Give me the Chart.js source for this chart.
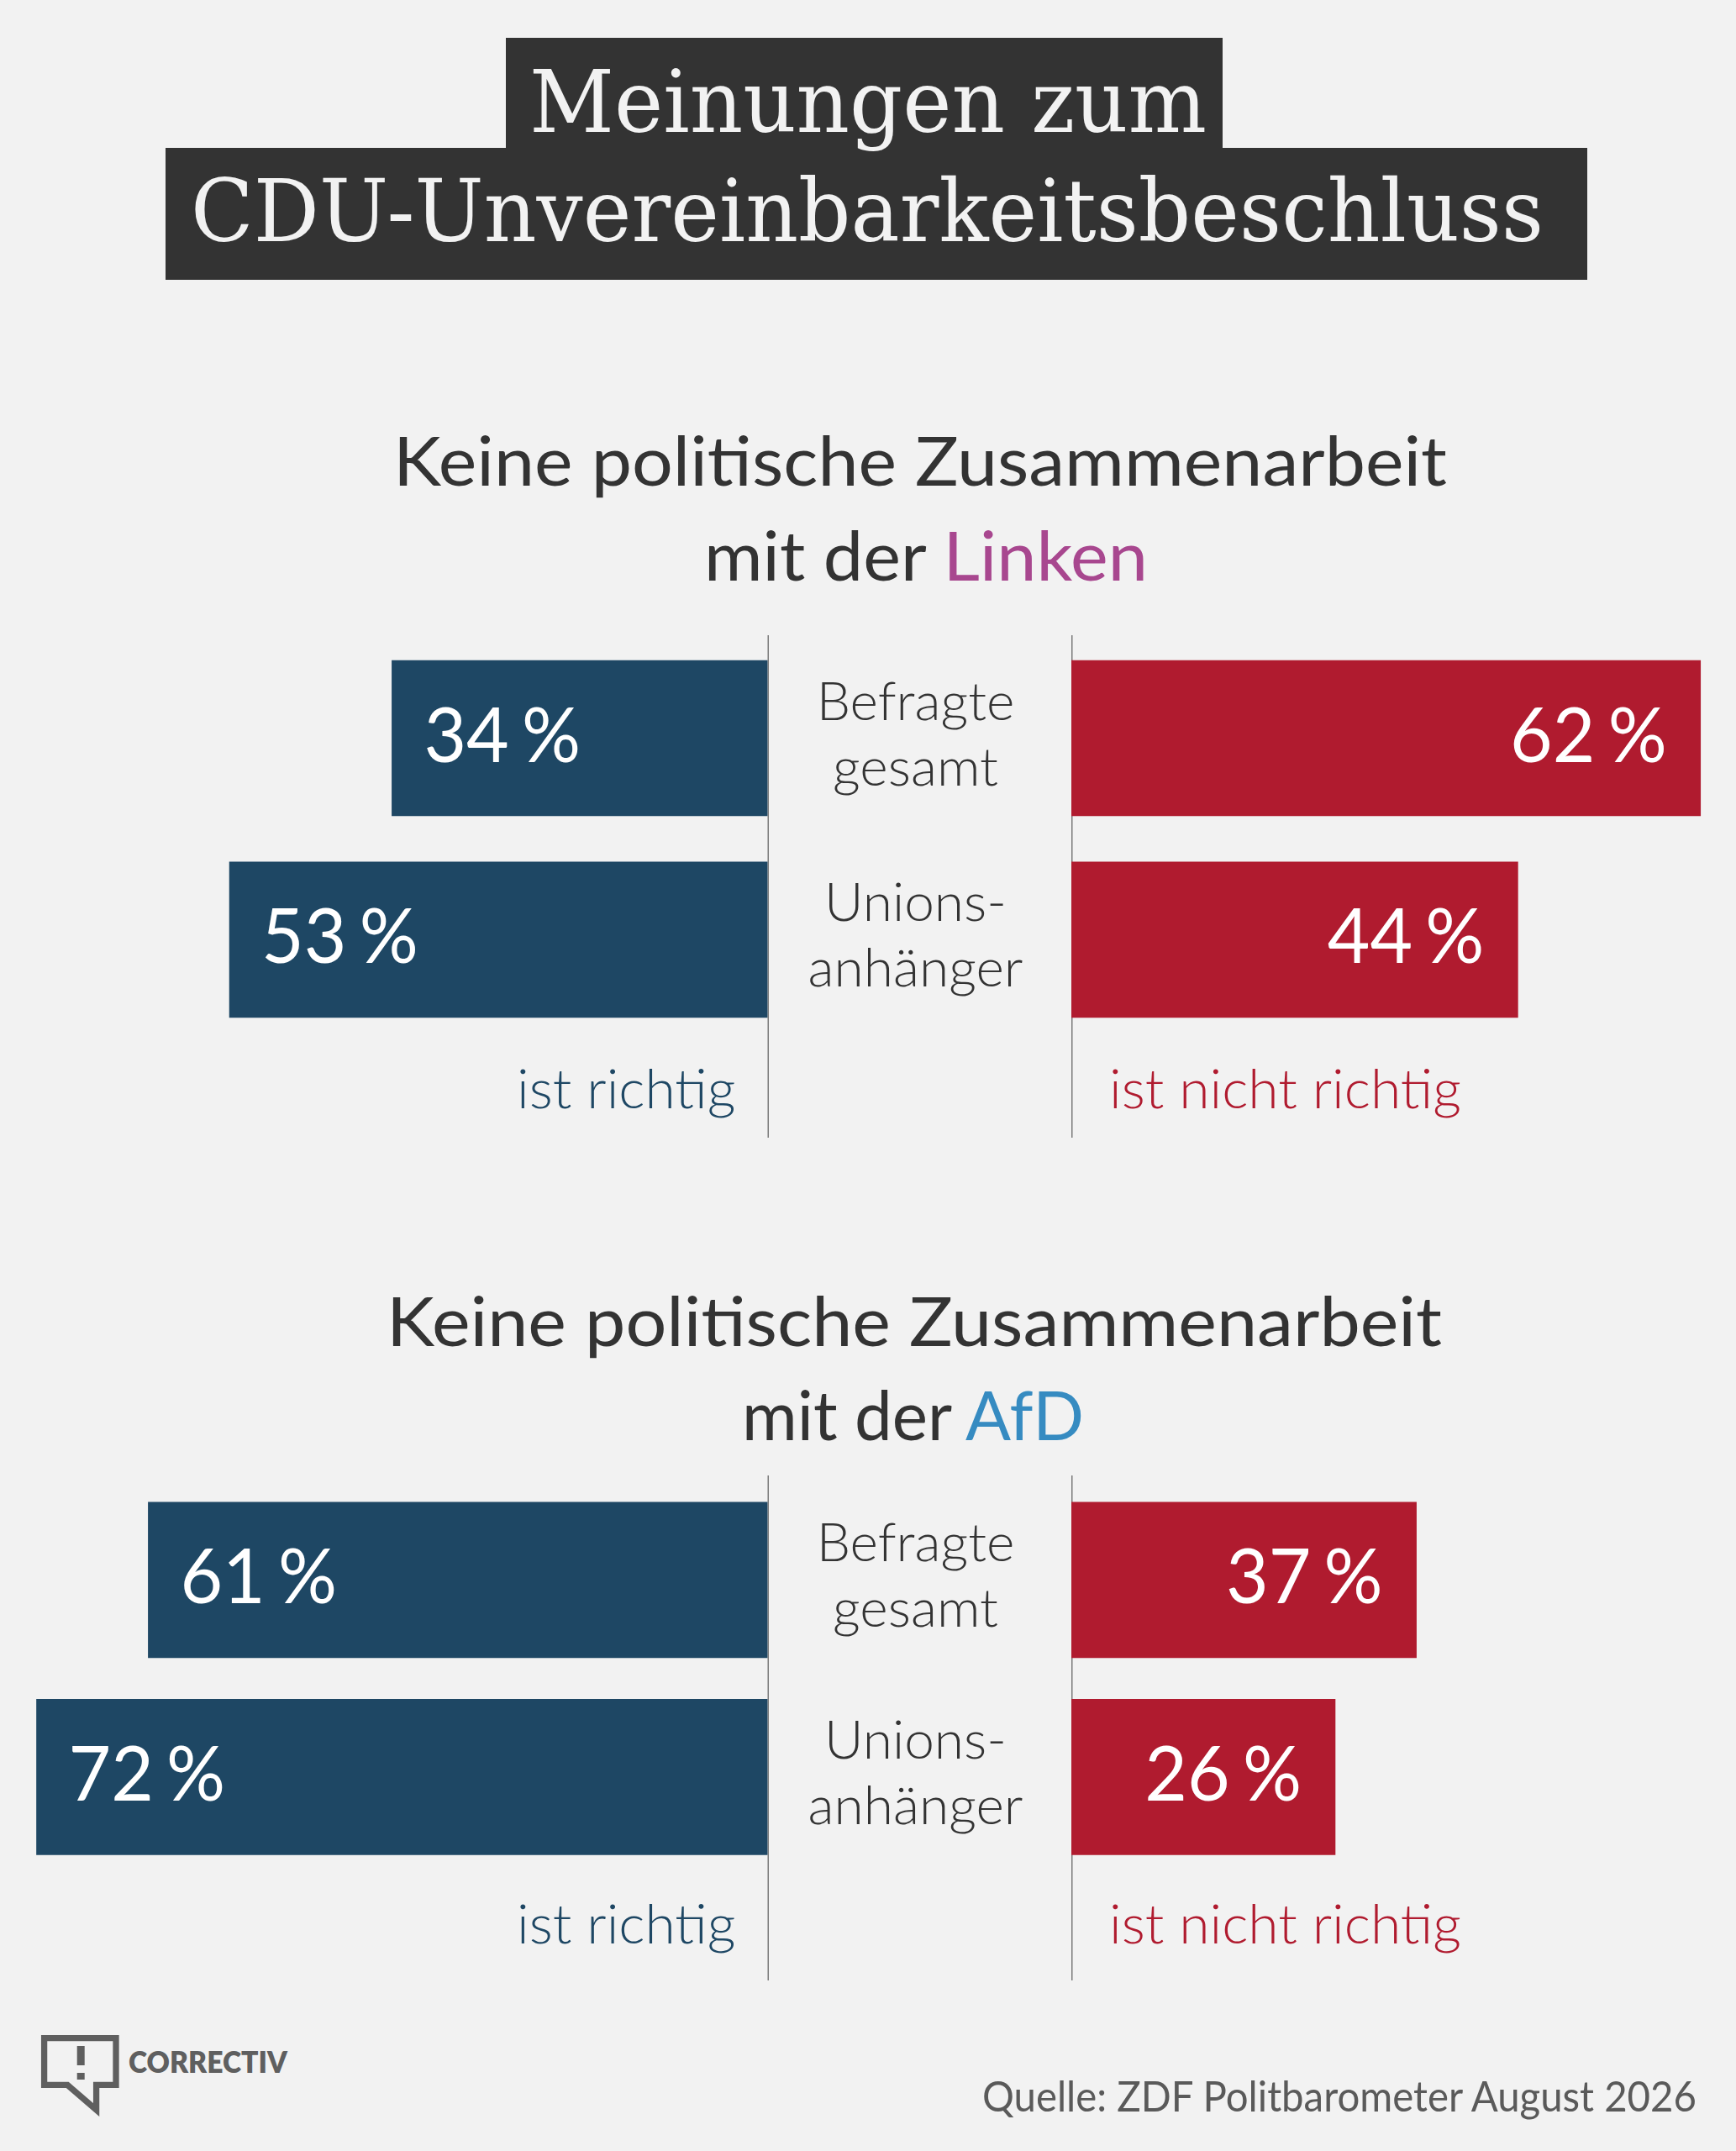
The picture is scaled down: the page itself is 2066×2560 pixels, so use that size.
<!DOCTYPE html>
<html lang="de">
<head>
<meta charset="utf-8">
<title>Meinungen zum CDU-Unvereinbarkeitsbeschluss</title>
<script src="https://cdn.jsdelivr.net/npm/chart.js@4/dist/chart.umd.min.js"></script>
<style>
  html, body { margin: 0; padding: 0; }
  body { width: 2066px; height: 2560px; background: #f2f2f2; position: relative; overflow: hidden; font-family: Lato, sans-serif; color: #333; }
  .box { position: absolute; background: #333; }
  .txt { position: absolute; left: 0; top: 0; white-space: nowrap; transform-origin: 0 0; line-height: 1; }
  .title { font-family: "DejaVu Serif", serif; font-size: 103px; color: #f2f2f2; }
  .sub { font-size: 82px; font-weight: 400; color: #333; }
  .src { font-size: 50px; font-weight: 400; color: #5a5a5a; }
  .logo { font-size: 35px; font-weight: 800; color: #5f5f5f; }
  .chartbox { position: absolute; }
</style>
</head>
<body>

<div class="box" style="left:602px;top:45px;width:853px;height:131px"></div>
<div class="box" style="left:197px;top:176px;width:1692px;height:157px"></div>
<div class="txt title" id="t1">Meinungen zum</div>
<div class="txt title" id="t2">CDU-Unvereinbarkeitsbeschluss</div>

<div class="txt sub" id="s1a">Keine politische Zusammenarbeit</div>
<div class="txt sub" id="s1b">mit der <span style="color:#a8478f">Linken</span></div>
<div class="txt sub" id="s2a">Keine politische Zusammenarbeit</div>
<div class="txt sub" id="s2b">mit der <span style="color:#368bc1">AfD</span></div>

<div class="chartbox" style="left:0;top:756px;width:1275px;height:598px"><canvas id="linkeRichtig"></canvas></div>
<div class="chartbox" style="left:1275px;top:756px;width:791px;height:598px"><canvas id="linkeNicht"></canvas></div>
<div class="chartbox" style="left:0;top:1756px;width:1275px;height:601px"><canvas id="afdRichtig"></canvas></div>
<div class="chartbox" style="left:1275px;top:1756px;width:791px;height:601px"><canvas id="afdNicht"></canvas></div>

<svg style="position:absolute;left:0;top:2400px" width="160" height="130" viewBox="0 2400 160 130">
  <path d="M52.6 2425.6 H138 V2481.4 H114.6 V2511 L80.3 2481.4 H52.6 Z" fill="none" stroke="#5f5f5f" stroke-width="7.3"/>
  <rect x="91.7" y="2435" width="9" height="23" fill="#5f5f5f"/>
  <rect x="91.7" y="2467" width="9" height="8" fill="#5f5f5f"/>
</svg>
<div class="txt logo" id="logo">CORRECTIV</div>
<div class="txt src" id="src">Quelle: ZDF Politbarometer August 2026</div>

<script>
// Kategorien (Zeilen der Beschriftung in der Mitte)
const categories = [['Befragte', 'gesamt'], ['Unions-', 'anhänger']];

// Balkenlängen in Prozent, wie gezeichnet
const linkeRichtig = [37, 53];
const linkeNichtRichtig = [62, 44];
const afdRichtig = [61, 72];
const afdNichtRichtig = [34, 26];

// Beschriftungen, wie gedruckt
const linkeRichtigLabels = ['34\u202F%', '53\u202F%'];
const linkeNichtRichtigLabels = ['62\u202F%', '44\u202F%'];
const afdRichtigLabels = ['61\u202F%', '72\u202F%'];
const afdNichtRichtigLabels = ['37\u202F%', '26\u202F%'];

const blue = '#1e4764';
const red = '#b01b2f';

// Zahl und Prozentzeichen mit schmalem Abstand, leicht schmaler gesetzt
function drawValue(ctx, text, x, y, alignLeft) {
    const parts = text.split('\u202F');
    const gap = 16;
    const sx = 0.95;
    const w = (ctx.measureText(parts[0]).width + gap + ctx.measureText(parts[1]).width) * sx;
    const start = alignLeft ? x : x - w;
    ctx.save();
    ctx.translate(start, y);
    ctx.scale(sx, 1);
    ctx.textAlign = 'left';
    ctx.fillText(parts[0], 0, 0);
    ctx.fillText(parts[1], ctx.measureText(parts[0]).width + gap, 0);
    ctx.restore();
}

const divergePlugin = {
    id: 'diverge',
    beforeDatasetsDraw(chart, args, opts) {
        const { ctx, chartArea } = chart;
        const x = opts.side === 'left' ? chartArea.right + 0.75 : chartArea.left + 0.75;
        ctx.save();
        ctx.strokeStyle = '#7a7a7a';
        ctx.lineWidth = 1.5;
        ctx.beginPath();
        ctx.moveTo(x, 0);
        ctx.lineTo(x, chart.height);
        ctx.stroke();
        ctx.restore();
    },
    afterDatasetsDraw(chart, args, opts) {
        const { ctx, chartArea } = chart;
        const left = opts.side === 'left';
        const meta = chart.getDatasetMeta(0);
        ctx.save();
        // Prozentwerte in den Balken
        ctx.fillStyle = '#ffffff';
        ctx.font = '400 92px Lato';
        ctx.textBaseline = 'alphabetic';
        meta.data.forEach((bar, i) => {
            drawValue(ctx, opts.labels[i], left ? bar.x + 38 : bar.x - 40, bar.y + 28, left);
        });
        // "ist richtig" / "ist nicht richtig"
        ctx.font = '300 66px Lato';
        ctx.fillStyle = opts.color;
        ctx.textAlign = left ? 'right' : 'left';
        ctx.fillText(opts.caption, left ? chartArea.right - 38 : chartArea.left + 45, chartArea.bottom + 81);
        // Kategorien in der Mitte
        if (left) {
            const yScale = chart.scales.y;
            ctx.font = '300 64px Lato';
            ctx.fillStyle = '#333333';
            ctx.textAlign = 'center';
            categories.forEach((lines, i) => {
                const cy = yScale.getPixelForValue(i);
                ctx.fillText(lines[0], chartArea.right + 176, cy - 22);
                ctx.fillText(lines[1], chartArea.right + 176, cy + 56);
            });
        }
        ctx.restore();
    }
};

function makeChart(id, side, values, labels, color, caption, padTop, padBottom) {
    const left = side === 'left';
    return new Chart(document.getElementById(id), {
        type: 'bar',
        data: {
            labels: categories,
            datasets: [{
                data: values,
                backgroundColor: color,
                borderWidth: 0,
                barThickness: 185,
            }]
        },
        options: {
            indexAxis: 'y',
            responsive: true,
            maintainAspectRatio: false,
            animation: false,
            layout: { padding: { top: padTop, bottom: padBottom, left: 0, right: left ? 361.5 : 0 } },
            scales: {
                x: { display: false, min: 0, max: left ? 75.6 : 65.5, reverse: left },
                y: { display: false }
            },
            plugins: {
                legend: { display: false },
                tooltip: { enabled: false },
                diverge: { side: side, labels: labels, color: color, caption: caption }
            }
        },
        plugins: [divergePlugin]
    });
}

makeChart('linkeRichtig', 'left', linkeRichtig, linkeRichtigLabels, blue, 'ist richtig', 2.6, 115.8);
makeChart('linkeNicht', 'right', linkeNichtRichtig, linkeNichtRichtigLabels, red, 'ist nicht richtig', 2.6, 115.8);
makeChart('afdRichtig', 'left', afdRichtig, afdRichtigLabels, blue, 'ist richtig', 7.2, 125);
makeChart('afdNicht', 'right', afdNichtRichtig, afdNichtRichtigLabels, red, 'ist nicht richtig', 7.2, 125);

// HTML-Texte auf Grundlinie setzen und auf Breite bringen
function place(id, x0, x1, baseline) {
    const el = document.getElementById(id);
    const w = el.getBoundingClientRect().width;
    const m = document.createElement('span');
    m.style.cssText = 'display:inline-block;width:0;height:0;vertical-align:baseline';
    el.appendChild(m);
    const b = m.getBoundingClientRect().top - el.getBoundingClientRect().top;
    m.remove();
    el.style.left = x0 + 'px';
    el.style.top = (baseline - b) + 'px';
    el.style.transform = 'scaleX(' + ((x1 - x0) / w) + ')';
}

place('t1', 630, 1436, 157);
place('t2', 227, 1837, 287);
place('s1a', 468, 1722, 578);
place('s1b', 838, 1366, 691);
place('s2a', 460, 1716, 1602);
place('s2b', 883, 1290, 1714);
place('logo', 153, 342, 2467);
place('src', 1169, 2019, 2513);
</script>
</body>
</html>
